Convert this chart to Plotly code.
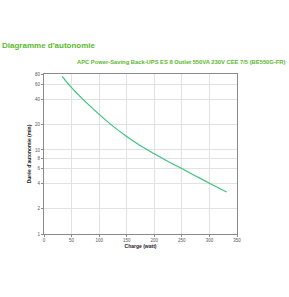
import plotly.graph_objects as go

load_w = [33, 50, 75, 100, 125, 150, 175, 200, 225, 250, 275, 300, 331]
runtime_min = [75, 55, 37.5, 26.5, 19.2, 14.4, 11.2, 9.0, 7.3, 6.0, 4.9, 4.02, 3.16]
x_ticks = [0, 50, 100, 150, 200, 250, 300, 350]
y_ticks = [1, 2, 4, 6, 8, 10, 20, 40, 60, 80]

green = "#5cb82e"
fig = go.Figure()
fig.add_trace(go.Scatter(x=load_w, y=runtime_min, mode="lines",
                         line=dict(color="#3cc47c", width=1.2, shape="spline", smoothing=1),
                         hoverinfo="skip", showlegend=False))

fig.update_layout(
    width=289, height=297,
    margin=dict(l=44, r=52, t=74, b=63),
    paper_bgcolor="white", plot_bgcolor="white",
    font=dict(family="Liberation Sans, Arial, sans-serif"),
    showlegend=False,
)
fig.update_xaxes(range=[0, 350], tickvals=x_ticks, ticktext=[str(v) for v in x_ticks],
                 showgrid=True, gridcolor="#e2e2e2", gridwidth=1,
                 showline=True, linecolor="#8a8a8a", linewidth=1, mirror=True,
                 ticks="outside", ticklen=2, tickcolor="#8a8a8a",
                 tickfont=dict(size=4.5, color="#555"), zeroline=False,
                 title=dict(text="<b>Charge (watt)</b>", font=dict(size=5, color="#222"), standoff=2))
fig.update_yaxes(type="log", range=[0, 1.90309], tickvals=y_ticks, ticktext=[str(v) for v in y_ticks],
                 showgrid=True, gridcolor="#e2e2e2", gridwidth=1,
                 showline=True, linecolor="#8a8a8a", linewidth=1, mirror=True,
                 ticks="outside", ticklen=2, tickcolor="#8a8a8a",
                 tickfont=dict(size=4.5, color="#555"), zeroline=False,
                 title=dict(text="<b>Durée d'autonomie (min)</b>", font=dict(size=5, color="#222"), standoff=3))

fig.add_annotation(text="<b>Diagramme d'autonomie</b>", xref="paper", yref="paper",
                   x=-44/193, y=1 + 28/160, xanchor="left", yanchor="middle",
                   showarrow=False, font=dict(size=8, color=green))
fig.add_annotation(text="<b>APC Power-Saving Back-UPS ES 8 Outlet 550VA 230V CEE 7/5 (BE550G-FR)</b>",
                   xref="paper", yref="paper", x=(288-44)/193, y=1 + 12/160,
                   xanchor="right", yanchor="middle",
                   showarrow=False, font=dict(size=5.8, color=green))

fig.write_html("out.html")
